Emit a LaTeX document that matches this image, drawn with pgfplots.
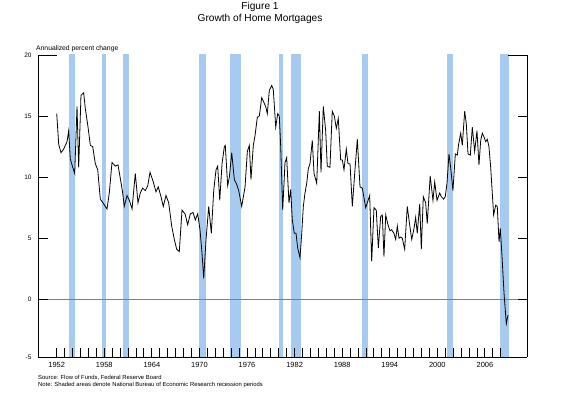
\documentclass[border=0pt]{standalone}
\usepackage{pgfplots}
\pgfplotsset{compat=1.18}
\usepackage{fontspec}
\setmainfont{Liberation Sans}
\definecolor{recess}{RGB}{166,202,240}
\begin{document}
\begin{tikzpicture}[x=1bp,y=1bp]
\path[use as bounding box] (0,0) rectangle (568,399);
\begin{axis}[
  name=ax,
  at={(38bp,41.7bp)}, anchor=south west,
  scale only axis, width=489bp, height=302.3bp,
  xmin=1949.64, xmax=2011.31,
  ymin=-4.75, ymax=20,
  axis x line=bottom, axis y line=box,
  axis line style={-, line width=1bp, black},
  every outer x axis line/.append style={-},
  every outer y axis line/.append style={-},
  tick align=inside,
  xtick={1952,1958,...,2006},
  minor xtick={1952,1953,...,2008},
  ytick={-4.75,0,5,10,15,20},
  yticklabels={-5,0,5,10,15,20},
  major tick length=9.5bp, minor tick length=9.5bp,
  tick style={black, line width=0.9bp},
  minor tick style={black, line width=0.9bp},
  /pgf/number format/assume math mode=true,
  xticklabel={\pgfmathprintnumber[1000 sep={}]{\tick}},
  xticklabel style={font=\fontsize{7.5}{8}\selectfont, anchor=north, inner sep=0pt, yshift=-4.5bp},
  yticklabel style={font=\fontsize{6.5}{7}\selectfont, anchor=east, inner sep=0pt, xshift=-6.3bp},
  axis on top,
  clip=true,
]
% recession bars
\addplot[fill=recess, draw=none, forget plot] coordinates {(1953.55,-6) (1953.55,21) (1954.35,21) (1954.35,-6)} -- cycle;
\addplot[fill=recess, draw=none, forget plot] coordinates {(1957.65,-6) (1957.65,21) (1958.25,21) (1958.25,-6)} -- cycle;
\addplot[fill=recess, draw=none, forget plot] coordinates {(1960.3,-6) (1960.3,21) (1961.1,21) (1961.1,-6)} -- cycle;
\addplot[fill=recess, draw=none, forget plot] coordinates {(1969.95,-6) (1969.95,21) (1970.85,21) (1970.85,-6)} -- cycle;
\addplot[fill=recess, draw=none, forget plot] coordinates {(1973.85,-6) (1973.85,21) (1975.2,21) (1975.2,-6)} -- cycle;
\addplot[fill=recess, draw=none, forget plot] coordinates {(1980.0,-6) (1980.0,21) (1980.5,21) (1980.5,-6)} -- cycle;
\addplot[fill=recess, draw=none, forget plot] coordinates {(1981.55,-6) (1981.55,21) (1982.85,21) (1982.85,-6)} -- cycle;
\addplot[fill=recess, draw=none, forget plot] coordinates {(1990.55,-6) (1990.55,21) (1991.2,21) (1991.2,-6)} -- cycle;
\addplot[fill=recess, draw=none, forget plot] coordinates {(2001.2,-6) (2001.2,21) (2001.95,21) (2001.95,-6)} -- cycle;
\addplot[fill=recess, draw=none, forget plot] coordinates {(2007.9,-6) (2007.9,21) (2009.0,21) (2009.0,-6)} -- cycle;
% zero line
\addplot[gray, line width=0.7bp, forget plot] coordinates {(1940,0) (2020,0)};
% mortgage growth
\addplot[black, line width=0.8bp] coordinates {
(1952.00,15.2) (1952.25,12.7) (1952.54,12.0) (1952.88,12.3) (1953.30,12.9)
(1953.51,13.8) (1953.71,11.5) (1954.02,10.8) (1954.27,10.3) (1954.56,15.8)
(1954.77,10.8) (1955.06,16.7) (1955.40,16.9) (1955.61,15.6) (1955.95,14.1)
(1956.24,12.6) (1956.54,12.5) (1956.87,11.1) (1957.17,10.6) (1957.50,8.2)
(1957.93,7.8) (1958.34,7.4) (1958.63,8.7) (1958.97,11.2) (1959.39,10.9)
(1959.73,11.0) (1960.02,9.9) (1960.32,8.7) (1960.52,7.6) (1960.87,8.5)
(1961.16,8.1) (1961.50,7.4) (1961.91,10.3) (1962.25,7.9) (1962.54,8.7)
(1962.84,9.1) (1963.17,8.9) (1963.48,9.3) (1963.77,10.4) (1964.18,9.6)
(1964.52,8.8) (1964.81,9.2) (1965.15,8.4) (1965.44,7.6) (1965.78,8.5)
(1966.12,7.9) (1966.50,6.0) (1966.83,4.9) (1967.13,4.1) (1967.46,3.9)
(1967.80,7.3) (1968.18,7.0) (1968.52,6.1) (1968.85,7.0) (1969.19,7.1)
(1969.48,6.5) (1969.78,7.0) (1970.07,5.7) (1970.32,3.8) (1970.54,1.7)
(1970.83,4.9) (1971.17,7.6) (1971.50,5.4) (1971.80,8.9) (1972.09,10.6)
(1972.30,10.9) (1972.56,8.1) (1972.85,11.1) (1973.14,12.5) (1973.26,12.6)
(1973.56,9.3) (1973.77,10.0) (1974.07,12.0) (1974.40,9.8) (1974.70,9.4)
(1974.95,8.9) (1975.33,7.6) (1975.75,9.2) (1976.04,12.1) (1976.29,12.6)
(1976.50,9.8) (1976.79,12.6) (1977.01,13.4) (1977.30,14.9) (1977.55,15.0)
(1977.85,16.5) (1978.14,16.1) (1978.39,15.7) (1978.56,15.2) (1978.81,17.1)
(1979.11,17.5) (1979.31,17.2) (1979.62,14.1) (1979.87,15.2) (1980.07,15.0)
(1980.25,12.5) (1980.50,7.3) (1980.79,11.2) (1981.00,11.6) (1981.29,7.9)
(1981.51,9.0) (1981.71,6.5) (1981.96,5.4) (1982.18,5.4) (1982.39,4.2)
(1982.68,3.4) (1982.90,5.4) (1983.10,7.6) (1983.31,8.7) (1983.53,9.5)
(1983.73,10.7) (1983.94,11.1) (1984.23,13.0) (1984.45,10.3) (1984.79,9.5)
(1985.12,15.4) (1985.33,10.4) (1985.62,15.8) (1985.92,13.8) (1986.12,10.9)
(1986.46,10.8) (1986.75,15.4) (1987.01,15.0) (1987.26,14.0) (1987.51,14.8)
(1987.81,11.4) (1988.02,11.4) (1988.23,10.6) (1988.52,12.3) (1988.73,11.1)
(1988.99,11.1) (1989.28,7.6) (1989.58,10.3) (1989.91,13.1) (1990.25,9.2)
(1990.54,9.1) (1990.97,7.5) (1991.47,8.5) (1991.72,3.1) (1992.01,7.5)
(1992.30,7.3) (1992.56,4.2) (1992.86,6.8) (1993.06,6.9) (1993.27,3.5)
(1993.49,6.9) (1993.78,6.1) (1994.03,5.6) (1994.24,5.7) (1994.53,5.4)
(1994.75,4.9) (1994.95,6.0) (1995.17,5.0) (1995.38,5.1) (1995.58,5.0)
(1995.88,4.1) (1996.21,7.6) (1996.51,6.1) (1996.77,4.9) (1997.06,5.8)
(1997.27,6.7) (1997.47,5.4) (1997.78,7.8) (1997.98,4.1) (1998.23,8.4)
(1998.53,7.9) (1998.73,6.2) (1999.10,10.1) (1999.45,8.1) (1999.67,9.6)
(1999.96,8.1) (2000.30,8.7) (2000.50,8.4) (2000.80,8.2) (2001.00,8.4)
(2001.22,9.5) (2001.47,11.9) (2001.68,10.8) (2001.97,8.9) (2002.27,11.9)
(2002.52,11.8) (2002.69,12.7) (2002.95,13.6) (2003.15,12.6) (2003.45,15.4)
(2003.65,14.4) (2003.87,11.9) (2004.16,11.8) (2004.41,14.1) (2004.71,12.1)
(2005.00,13.8) (2005.25,11.0) (2005.47,13.0) (2005.67,13.6) (2005.88,13.3)
(2006.10,12.9) (2006.30,13.1) (2006.51,12.5) (2006.73,10.8) (2006.93,8.7)
(2007.10,6.9) (2007.36,7.7) (2007.56,7.6) (2007.78,4.7) (2007.94,5.8)
(2008.16,3.5) (2008.41,0.5) (2008.70,-2.0) (2008.91,-1.3)
};
\end{axis}
% partial top frame
\draw[line width=1bp, black] (37.5,344) -- (57,344);
\draw[line width=1bp, black] (508,344) -- (527.5,344);
% titles
\node[anchor=base, inner sep=0pt, font=\fontsize{10.2}{12}\selectfont] at (260,389) {Figure 1};
\node[anchor=base, inner sep=0pt, font=\fontsize{10.2}{12}\selectfont] at (260,377.5) {Growth of Home Mortgages};
\node[anchor=base west, inner sep=0pt, font=\fontsize{6.8}{8}\selectfont] at (36,349) {Annualized percent change};
% notes
\node[anchor=base west, inner sep=0pt, font=\fontsize{5.9}{7}\selectfont] at (38,19.5) {Source: Flow of Funds, Federal Reserve Board};
\node[anchor=base west, inner sep=0pt, font=\fontsize{5.9}{7}\selectfont] at (38,12.7) {Note: Shaded areas denote National Bureau of Economic Research recession periods};
\end{tikzpicture}
\end{document}
